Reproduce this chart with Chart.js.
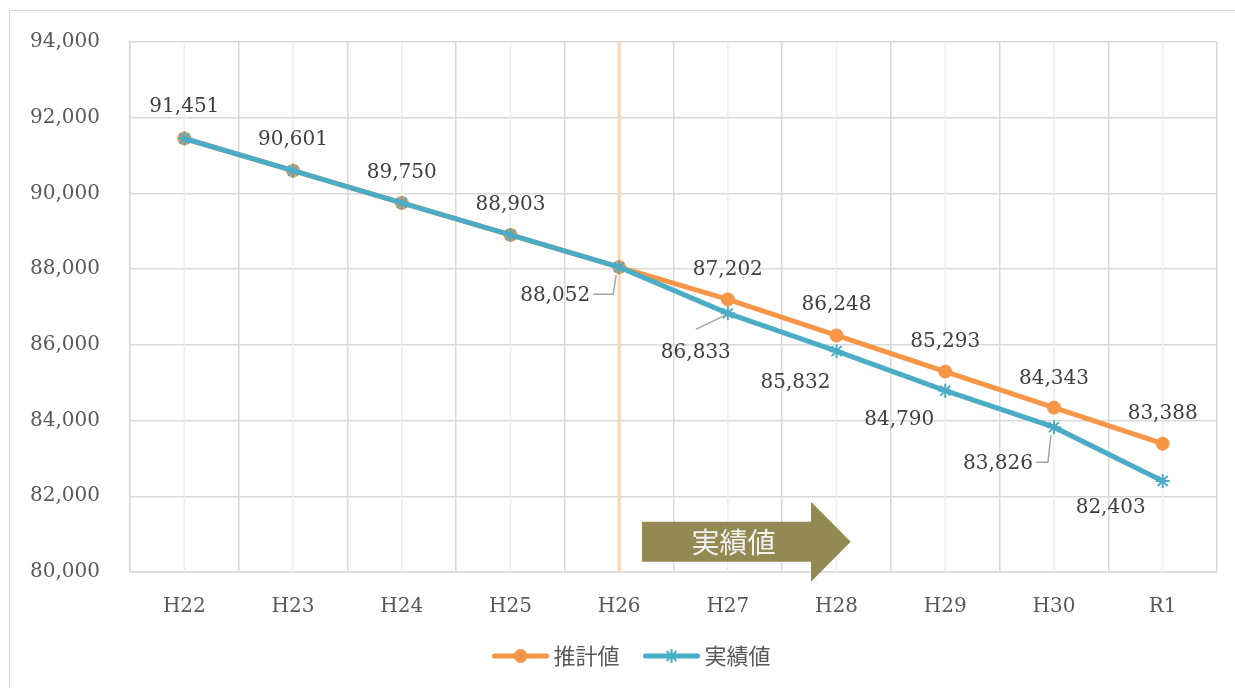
<!DOCTYPE html>
<html lang="ja">
<head>
<meta charset="utf-8">
<title>推計値と実績値</title>
<script src="https://cdn.jsdelivr.net/npm/chart.js@4/dist/chart.umd.min.js"></script>
<style>
  html, body { margin: 0; padding: 0; background: #fff; overflow: hidden; }
  #wrap { position: relative; width: 1235px; height: 688px; }
  #frame {
    position: absolute; left: 9px; top: 10px; width: 1400px; height: 900px;
    border: 1.5px solid #d9d9d9; box-sizing: border-box;
  }
  #chart { position: absolute; left: 0; top: 0; }
</style>
</head>
<body>
<div id="wrap">
  <div id="frame"></div>
  <canvas id="chart" width="1235" height="688"></canvas>
</div>
<script>
const years = ["H22", "H23", "H24", "H25", "H26", "H27", "H28", "H29", "H30", "R1"];
const estimateValues = [91451, 90601, 89750, 88903, 88052, 87202, 86248, 85293, 84343, 83388];
const actualValues = [91451, 90601, 89750, 88903, 88052, 86833, 85832, 84790, 83826, 82403];
const seriesNames = ["推計値", "実績値"];
const arrowText = "実績値";
const yMin = 80000;
const yMax = 94000;
const yStep = 2000;

const ORANGE = "#f79646";
const TEAL = "#4bacc6";
const SERIF = "'DejaVu Serif', 'Liberation Serif', serif";
const JP = "'Noto Sans CJK JP', 'Noto Sans', sans-serif";

function fmt(v) {
  return Number(v).toLocaleString("en-US");
}

// where each data label sits relative to its point
const labelSpots = [
  { ds: 0, i: 0, dx: 0, dy: -33 },
  { ds: 0, i: 1, dx: 0, dy: -32 },
  { ds: 0, i: 2, dx: 0, dy: -31 },
  { ds: 0, i: 3, dx: 0, dy: -31 },
  { ds: 0, i: 4, dx: -64, dy: 28, leader: "elbow" },
  { ds: 0, i: 5, dx: 0, dy: -31 },
  { ds: 0, i: 6, dx: 0, dy: -32 },
  { ds: 0, i: 7, dx: 0, dy: -31 },
  { ds: 0, i: 8, dx: 0, dy: -30 },
  { ds: 0, i: 9, dx: 0, dy: -31 },
  { ds: 1, i: 5, dx: -32, dy: 38, leader: "diag" },
  { ds: 1, i: 6, dx: -41, dy: 31 },
  { ds: 1, i: 7, dx: -46, dy: 28 },
  { ds: 1, i: 8, dx: -56, dy: 36, leader: "elbow" },
  { ds: 1, i: 9, dx: -52, dy: 26 },
];

const backdropPlugin = {
  id: "backdrop",
  beforeDatasetsDraw(chart) {
    const { ctx, chartArea: a, scales } = chart;
    const x = scales.x;
    ctx.save();
    // light minor lines at category centres
    ctx.strokeStyle = "#eeeeee";
    ctx.lineWidth = 1.5;
    years.forEach((_, i) => {
      const px = x.getPixelForValue(i);
      ctx.beginPath();
      ctx.moveTo(px, a.top);
      ctx.lineTo(px, a.bottom);
      ctx.stroke();
    });
    // marker line at H26
    const px26 = x.getPixelForValue(years.indexOf("H26"));
    ctx.strokeStyle = "#fcd5b4";
    ctx.lineWidth = 3;
    ctx.beginPath();
    ctx.moveTo(px26, a.top);
    ctx.lineTo(px26, a.bottom);
    ctx.stroke();
    ctx.restore();
  },
};

const annotatePlugin = {
  id: "annotate",
  afterDatasetsDraw(chart) {
    const { ctx, scales } = chart;
    const x = scales.x;
    const y = scales.y;
    ctx.save();

    // arrow
    const step = x.getPixelForValue(1) - x.getPixelForValue(0);
    const x0 = x.getPixelForValue(4) + step * 0.21;
    const xNeck = x.getPixelForValue(5) + step * 0.765;
    const xTip = x.getPixelForValue(6) + step * 0.13;
    const yc = y.getPixelForValue(80797);
    const hb = 20;
    const hh = 40;
    ctx.fillStyle = "#938953";
    ctx.beginPath();
    ctx.moveTo(x0, yc - hb);
    ctx.lineTo(xNeck, yc - hb);
    ctx.lineTo(xNeck, yc - hh);
    ctx.lineTo(xTip, yc);
    ctx.lineTo(xNeck, yc + hh);
    ctx.lineTo(xNeck, yc + hb);
    ctx.lineTo(x0, yc + hb);
    ctx.closePath();
    ctx.fill();
    ctx.fillStyle = "#f2f2f2";
    ctx.font = "28px " + JP;
    ctx.textAlign = "center";
    ctx.textBaseline = "middle";
    ctx.fillText(arrowText, (x0 + xNeck) / 2 + 7, yc + 1);

    // data labels
    const sets = [estimateValues, actualValues];
    ctx.font = "20px " + SERIF;
    labelSpots.forEach((s) => {
      const v = sets[s.ds][s.i];
      const px = x.getPixelForValue(s.i);
      const py = y.getPixelForValue(v);
      const lx = px + s.dx;
      const ly = py + s.dy;
      if (s.leader) {
        ctx.strokeStyle = "#a6a6a6";
        ctx.lineWidth = 1.5;
        ctx.beginPath();
        if (s.leader === "elbow") {
          const sx = lx + 38;
          ctx.moveTo(sx, ly - 1);
          ctx.lineTo(px - 6, ly - 1);
          ctx.lineTo(px - 3, py + 8);
        } else {
          ctx.moveTo(lx, ly - 22);
          ctx.lineTo(px - 3, py + 2);
        }
        ctx.stroke();
      }
      ctx.fillStyle = "#404040";
      ctx.textAlign = "center";
      ctx.textBaseline = "middle";
      ctx.fillText(fmt(v), lx, ly + 1);
    });
    ctx.restore();
  },
  afterDraw(chart) {
    const { ctx } = chart;
    ctx.save();
    ctx.font = "22px " + JP;
    const lineLen = 56;
    const gap = 5;
    const between = 24;
    const widths = seriesNames.map((n) => ctx.measureText(n).width);
    const total = widths.reduce((s, w) => s + lineLen + gap + w, 0) + between;
    let cx = chart.width / 2 + 14 - total / 2;
    const ly = 656;
    chart.data.datasets.forEach((ds, k) => {
      ctx.strokeStyle = ds.borderColor;
      ctx.lineWidth = 5;
      ctx.lineCap = "round";
      ctx.beginPath();
      ctx.moveTo(cx + 2, ly);
      ctx.lineTo(cx + lineLen - 2, ly);
      ctx.stroke();
      ctx.lineCap = "butt";
      const opts = {
        pointStyle: ds.pointStyle,
        radius: ds.pointRadius,
        borderWidth: ds.pointBorderWidth,
      };
      ctx.fillStyle = ds.pointBackgroundColor;
      ctx.strokeStyle = ds.pointBorderColor;
      ctx.lineWidth = ds.pointBorderWidth;
      Chart.helpers.drawPoint(ctx, opts, cx + lineLen / 2, ly);
      ctx.fillStyle = "#595959";
      ctx.textAlign = "left";
      ctx.textBaseline = "middle";
      ctx.fillText(seriesNames[k], cx + lineLen + gap, ly);
      cx += lineLen + gap + widths[k] + between;
    });
    ctx.restore();
  },
};

function initChart() {
  const ctx = document.getElementById("chart").getContext("2d");
  return new Chart(ctx, {
    type: "line",
    data: {
      labels: years,
      datasets: [
        {
          label: seriesNames[0],
          data: estimateValues,
          borderColor: ORANGE,
          backgroundColor: ORANGE,
          borderWidth: 5,
          pointStyle: "circle",
          pointRadius: 6.5,
          pointBackgroundColor: ORANGE,
          pointBorderColor: ORANGE,
          pointBorderWidth: 1,
          tension: 0,
          order: 1,
        },
        {
          label: seriesNames[1],
          data: actualValues,
          borderColor: TEAL,
          backgroundColor: TEAL,
          borderWidth: 5,
          pointStyle: "star",
          pointRadius: 7,
          pointBackgroundColor: TEAL,
          pointBorderColor: TEAL,
          pointBorderWidth: 2,
          tension: 0,
          order: 0,
        },
      ],
    },
    options: {
      responsive: false,
      animation: false,
      layout: { padding: { left: 0, right: 18, top: 40, bottom: 0 } },
      plugins: {
        legend: { display: false },
        tooltip: { enabled: false },
      },
      scales: {
        x: {
          offset: true,
          grid: { offset: true, color: "#d9d9d9", lineWidth: 1.5, drawTicks: false },
          border: { color: "#d9d9d9", width: 1.5 },
          ticks: { color: "#595959", font: { family: SERIF, size: 20 }, padding: 23, maxRotation: 0 },
          afterFit: (s) => { s.height = 116; },
        },
        y: {
          min: yMin,
          max: yMax,
          grid: { color: "#d9d9d9", lineWidth: 1.5, drawTicks: false },
          border: { color: "#d9d9d9", width: 1.5 },
          ticks: {
            stepSize: yStep,
            color: "#595959",
            font: { family: SERIF, size: 20 },
            padding: 30,
            callback: (v) => fmt(v),
          },
          afterFit: (s) => { s.width = 130; },
        },
      },
    },
    plugins: [backdropPlugin, annotatePlugin],
  });
}

document.addEventListener("DOMContentLoaded", initChart);
</script>
</body>
</html>
